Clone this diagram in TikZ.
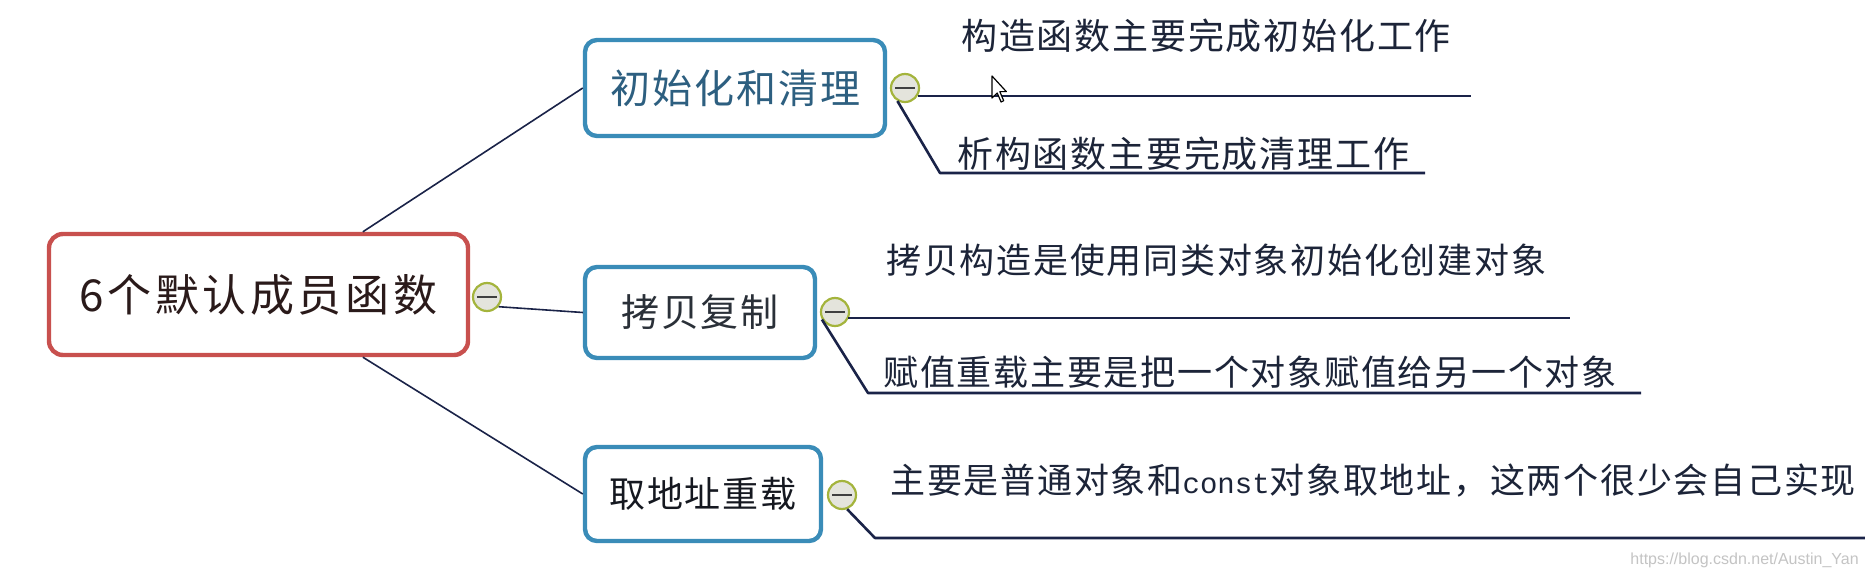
\documentclass[tikz,border=0pt]{standalone}
\usepackage{fontspec}
\newfontfamily\cjk[LetterSpace=5]{Noto Sans CJK SC}
\newfontfamily\cjkwide[LetterSpace=8]{Noto Sans CJK SC}
\newfontfamily\monof{Liberation Mono}
\newfontfamily\wmfont{Liberation Sans}
\definecolor{rootred}{HTML}{C8504E}
\definecolor{boxblue}{HTML}{3A8CB8}
\definecolor{linenavy}{HTML}{1A2348}
\definecolor{leaftext}{HTML}{1C2438}
\definecolor{circgreen}{HTML}{A4B43C}
\definecolor{circfill}{HTML}{E4E4DC}
\definecolor{wmgray}{HTML}{C4C4C4}
\begin{document}
\begin{tikzpicture}[x=0.5pt,y=-0.5pt,
  rootbox/.style={draw=rootred, line width=2.2pt, rounded corners=7pt, fill=white,
    minimum width=209.5pt, minimum height=60.5pt, inner sep=0pt},
  topicbox/.style={draw=boxblue, line width=2.2pt, rounded corners=6pt, fill=white, inner sep=0pt},
  collapse/.style={circle, draw=circgreen, line width=1.1pt, fill=circfill, minimum size=14pt, inner sep=0pt},
  leaf/.style={anchor=west, inner sep=0pt, text=leaftext},
  conn/.style={draw=linenavy, line width=0.8pt},
  leafline/.style={draw=linenavy, line width=1.3pt, line join=round}
]
\fill[white] (0,0) rectangle (1865,578);
\useasboundingbox (0,0) rectangle (1865,578);

% root
\node[rootbox] (root) at (258.5,294.5) {\cjkwide\fontsize{22pt}{26pt}\selectfont\color[HTML]{2A1A1A}6个默认成员函数};
\node[collapse] (c0) at (487,297) {};

% topics
\node[topicbox, minimum width=150pt, minimum height=48pt] (t1) at (735,88)
  {\cjk\fontsize{20pt}{24pt}\selectfont\color[HTML]{2D5F80}初始化和清理};
\node[topicbox, minimum width=115pt, minimum height=45.5pt] (t2) at (700,312.5)
  {\cjk\fontsize{19pt}{23pt}\selectfont\color[HTML]{2A3038}拷贝复制};
\node[topicbox, minimum width=118pt, minimum height=47pt] (t3) at (703,494)
  {\cjk\fontsize{18pt}{22pt}\selectfont\color[HTML]{151820}取地址重载};

\node[collapse] (c1) at (905,88) {};
\node[collapse] (c2) at (835,312) {};
\node[collapse] (c3) at (842,495) {};
\foreach \c in {c0,c1,c2,c3}{
  \draw[line width=1.1pt, draw=black!75] ([xshift=-4.8pt]\c.center) -- ([xshift=4.8pt]\c.center);
}

% connectors root -> topics
\draw[conn] (root.31) -- (t1.west);
\draw[conn] (c0.-40) -- (t2.west);
\draw[conn] (root.-31) -- (t3.west);

% leaf texts
\node[leaf] (l1) at (961,36) {\cjk\fontsize{18pt}{22pt}\selectfont 构造函数主要完成初始化工作};
\node[leaf] (l2) at (957,154) {\cjk\fontsize{18pt}{22pt}\selectfont 析构函数主要完成清理工作};
\node[leaf] (l3) at (886,260) {\cjk\fontsize{17.5pt}{21pt}\selectfont 拷贝构造是使用同类对象初始化创建对象};
\node[leaf] (l4) at (883,372) {\cjk\fontsize{17.5pt}{21pt}\selectfont 赋值重载主要是把一个对象赋值给另一个对象};
\node[leaf] (l5) at (890,481) {\cjk\fontsize{17.5pt}{21pt}\selectfont 主要是普通对象和{\monof\fontsize{14.5pt}{21pt}\selectfont const}对象取地址，这两个很少会自己实现};

% leaf lines
\coordinate (e1) at (1471,96);
\draw[leafline] (c1.-30 |- e1) -- (e1);
\coordinate (k2) at (940,173);
\coordinate (e2) at (1425,173);
\draw[leafline] (c1.-120) -- (k2) -- (e2);

\coordinate (e3) at (1570,318);
\draw[leafline] (c2.-30 |- e3) -- (e3);
\coordinate (k4) at (868,393);
\coordinate (e4) at (1641,393);
\draw[leafline] (c2.-150) -- (k4) -- (e4);

\coordinate (k5) at (875,538);
\coordinate (e5) at (1865,538);
\draw[leafline] (c3.-70) -- (k5) -- (e5);

% mouse cursor
\draw[black, fill=white, line width=0.6pt, line join=round, shift={(992,76)}]
  (0,0) -- (0,22) -- (5.2,17) -- (9.1,26) -- (11.7,24.7) -- (7.8,15.6) -- (14.3,15.6) -- cycle;

% watermark
\node[anchor=west, inner sep=0pt, text=wmgray] (wm) at (1630,560)
  {\wmfont\fontsize{8pt}{10pt}\selectfont https://blog.csdn.net/Austin\_Yan};
\end{tikzpicture}
\end{document}
